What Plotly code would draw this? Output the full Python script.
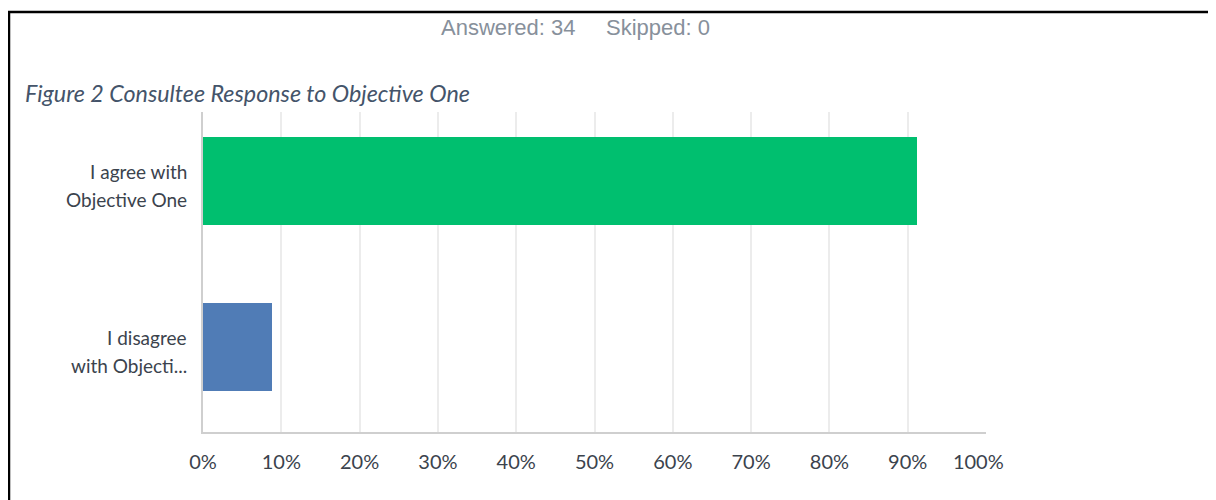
import plotly.graph_objects as go

# ---- data ----
categories = ["I agree with Objective One", "I disagree with Objective One"]
label_lines = [["I agree with", "Objective One"], ["I disagree", "with Objecti..."]]
percent = [91.18, 8.82]
bar_colors = ["#00bf6f", "#507cb6"]
x_ticks = [0, 10, 20, 30, 40, 50, 60, 70, 80, 90, 100]
answered_text = "Answered: 34"
skipped_text = "Skipped: 0"
figure_title = "Figure 2 Consultee Response to Objective One"

# ---- layout geometry (page pixels; the page body adds an 8px offset) ----
OFF = 8
W, H = 1216, 500
L, R, T, B = 203 - OFF, 986 - OFF, 112 - OFF, 432 - OFF


def px(x):
    return (x - OFF - L) / (R - L)


def py(y):
    return (B - (y - OFF)) / (B - T)


fig = go.Figure(
    go.Bar(
        y=categories,
        x=percent,
        orientation="h",
        width=0.53,
        marker=dict(color=bar_colors, line=dict(width=0)),
        hoverinfo="skip",
    )
)

xtick_font = dict(family="Lato, sans-serif", size=20, color="#3b434d")
ylab_font = dict(family="Lato, sans-serif", size=19, color="#3b434d")

tick_text = [f"{v}%" for v in x_ticks]
tick_text[-1] = tick_text[-1] + "\u00a0\u00a0\u00a0"  # last label sits slightly left, as in the original

fig.update_layout(
    width=W,
    height=H,
    margin=dict(l=L, r=W - R, t=T, b=H - B, pad=0),
    paper_bgcolor="white",
    plot_bgcolor="white",
    showlegend=False,
    bargap=0,
    xaxis=dict(
        range=[0, 100],
        tickvals=x_ticks,
        ticktext=tick_text,
        showgrid=True,
        gridcolor="#ececec",
        gridwidth=2,
        zeroline=False,
        showline=True,
        linecolor="#cfcfcf",
        linewidth=2,
        ticks="outside",
        ticklen=11,
        tickcolor="rgba(0,0,0,0)",
        tickfont=xtick_font,
        fixedrange=True,
    ),
    yaxis=dict(
        type="category",
        categoryorder="array",
        categoryarray=categories,
        range=[1.512, -0.416],
        showticklabels=False,
        showgrid=False,
        zeroline=False,
        showline=True,
        linecolor="#cfcfcf",
        linewidth=2,
        ticks="",
        fixedrange=True,
    ),
)

annotations = []
for cat, lines in zip(categories, label_lines):
    for txt, shift in zip(lines, [10, -18]):
        annotations.append(dict(
            text=txt, xref="paper", x=0, xanchor="right", xshift=-14,
            yref="y", y=cat, yanchor="middle", yshift=shift,
            showarrow=False, font=ylab_font,
        ))

header_font = dict(family="Liberation Sans, Arial, sans-serif", size=22, color="#87909b")
annotations.append(dict(text=answered_text, xref="paper", yref="paper", x=px(439), y=py(27),
                        xanchor="left", yanchor="middle", showarrow=False, font=header_font))
annotations.append(dict(text=skipped_text, xref="paper", yref="paper", x=px(604), y=py(27),
                        xanchor="left", yanchor="middle", showarrow=False, font=header_font))
annotations.append(dict(text=f"<i>{figure_title}</i>", xref="paper", yref="paper", x=px(23), y=py(93),
                        xanchor="left", yanchor="middle", showarrow=False,
                        font=dict(family="Lato, sans-serif", size=23.3, color="#44546a")))
fig.update_layout(annotations=annotations)

# frame lines (top and left)
fig.add_shape(type="line", xref="paper", yref="paper", x0=px(8), x1=px(1230), y0=py(12), y1=py(12),
              line=dict(color="black", width=2.5))
fig.add_shape(type="line", xref="paper", yref="paper", x0=px(9), x1=px(9), y0=py(11), y1=py(520),
              line=dict(color="black", width=2.5))

fig.write_html("out.html")
